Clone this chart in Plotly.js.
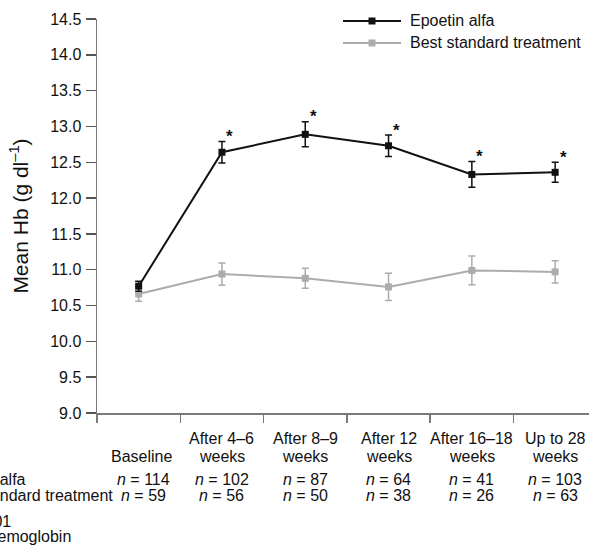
<!DOCTYPE html>
<html>
<head>
<meta charset="utf-8">
<script src="https://cdn.plot.ly/plotly-3.0.1.min.js"></script>
<style>
  html, body { margin: 0; padding: 0; background: #fff; }
  #chart { width: 589px; height: 546px; }
</style>
</head>
<body>
<div id="chart"></div>
<script>
// ---- Data ----
const categories = ["Baseline", "After 4–6 weeks", "After 8–9 weeks", "After 12 weeks", "After 16–18 weeks", "Up to 28 weeks"];
const labelLine1 = ["", "After 4–6", "After 8–9", "After 12", "After 16–18", "Up to 28"];
const labelLine2 = ["Baseline", "weeks", "weeks", "weeks", "weeks", "weeks"];
const epoetinMean = [10.77, 12.64, 12.89, 12.73, 12.33, 12.36];
const epoetinErr  = [0.07, 0.15, 0.175, 0.15, 0.18, 0.14];
const bstMean = [10.66, 10.94, 10.88, 10.76, 10.99, 10.97];
const bstErr  = [0.10, 0.155, 0.14, 0.19, 0.20, 0.155];
const epoetinN = [114, 102, 87, 64, 41, 103];
const bstN     = [59, 56, 50, 38, 26, 63];
const significant = [false, true, true, true, true, true];
const seriesNames = ["Epoetin alfa", "Best standard treatment"];
const yTicks = [9.0, 9.5, 10.0, 10.5, 11.0, 11.5, 12.0, 12.5, 13.0, 13.5, 14.0, 14.5];
const footnotes = ["*<i>P</i> < 0.001", "Hb = haemoglobin"];

// ---- Layout helpers (pixel -> paper) ----
const W = 589, H = 546;
const mL = 97, mR = 0, mT = 19, mB = 132.7;
const plotW = W - mL - mR, plotH = H - mT - mB;
const px = x => (x - mL) / plotW;
const py = y => (H - mB - y) / plotH;

const FONT = "Liberation Sans, Arial, Helvetica, sans-serif";
const black = "#111111";
const grey = "#acacac";
const axisCol = "#7a7a7a";
const FS = 16;

const traces = [
  {
    x: categories, y: bstMean, name: seriesNames[1], type: "scatter", mode: "lines+markers",
    line: { color: grey, width: 2 },
    marker: { symbol: "square", size: 7, color: grey },
    error_y: { type: "data", array: bstErr, visible: true, color: grey, thickness: 1.5, width: 3.5 },
    showlegend: false, hoverinfo: "skip"
  },
  {
    x: categories, y: epoetinMean, name: seriesNames[0], type: "scatter", mode: "lines+markers",
    line: { color: black, width: 2 },
    marker: { symbol: "square", size: 7, color: black },
    error_y: { type: "data", array: epoetinErr, visible: true, color: black, thickness: 1.5, width: 3.5 },
    showlegend: false, hoverinfo: "skip"
  }
];

const annotations = [];
const tf = { family: FONT, size: FS, color: "#111" };

// category labels
categories.forEach((c, i) => {
  if (labelLine1[i]) annotations.push({ xref: "x", yref: "paper", x: c, y: py(439), text: labelLine1[i],
    showarrow: false, xanchor: "center", yanchor: "middle", font: tf });
  annotations.push({ xref: "x", yref: "paper", x: c, y: py(456.5), text: labelLine2[i], xshift: i === 0 ? 3 : 0,
    showarrow: false, xanchor: "center", yanchor: "middle", font: tf });
  annotations.push({ xref: "x", yref: "paper", x: c, y: py(479.5), text: "<i>n</i> = " + epoetinN[i], xshift: i === 0 ? 5 : 0,
    showarrow: false, xanchor: "center", yanchor: "middle", font: tf });
  annotations.push({ xref: "x", yref: "paper", x: c, y: py(496), text: "<i>n</i> = " + bstN[i], xshift: i === 0 ? 5 : 0,
    showarrow: false, xanchor: "center", yanchor: "middle", font: tf });
  if (significant[i]) annotations.push({ xref: "x", yref: "y", x: c, y: epoetinMean[i] + epoetinErr[i],
    text: "<b>*</b>", showarrow: false, xanchor: "center", yanchor: "middle", xshift: 8, yshift: 5,
    font: { family: FONT, size: 17, color: "#111" } });
});

// row labels (cut off at the left edge as in the reference)
annotations.push({ xref: "paper", yref: "paper", x: px(-61), y: py(479.5), text: seriesNames[0],
  showarrow: false, xanchor: "left", yanchor: "middle", font: tf });
annotations.push({ xref: "paper", yref: "paper", x: px(-60), y: py(496), text: seriesNames[1],
  showarrow: false, xanchor: "left", yanchor: "middle", font: tf });
// footnotes
annotations.push({ xref: "paper", yref: "paper", x: px(13), y: py(522), text: footnotes[0],
  showarrow: false, xanchor: "right", yanchor: "middle", font: tf });
annotations.push({ xref: "paper", yref: "paper", x: px(73), y: py(537), text: footnotes[1],
  showarrow: false, xanchor: "right", yanchor: "middle", font: tf });

// legend text
annotations.push({ xref: "paper", yref: "paper", x: px(408), y: py(21), text: seriesNames[0],
  showarrow: false, xanchor: "left", yanchor: "middle", font: tf });
annotations.push({ xref: "paper", yref: "paper", x: px(408), y: py(43), text: seriesNames[1],
  showarrow: false, xanchor: "left", yanchor: "middle", font: tf });

// legend samples
const shapes = [];
[[21, black], [43, grey]].forEach(([yy, col]) => {
  shapes.push({ type: "line", xref: "paper", yref: "paper", x0: px(343), x1: px(401), y0: py(yy), y1: py(yy),
    line: { color: col, width: 2 } });
  shapes.push({ type: "rect", xref: "paper", yref: "paper", x0: px(368.5), x1: px(375.5), y0: py(yy - 3.5), y1: py(yy + 3.5),
    line: { width: 0 }, fillcolor: col });
});

const layout = {
  width: W, height: H,
  margin: { l: mL, r: mR, t: mT, b: mB, pad: 0 },
  paper_bgcolor: "#fff", plot_bgcolor: "#fff",
  font: { family: FONT, size: FS, color: "#111" },
  showlegend: false,
  xaxis: {
    type: "category", categoryorder: "array", categoryarray: categories,
    range: [-0.5, -0.5 + plotW / 83.3],
    showgrid: false, zeroline: false, showline: true, linecolor: axisCol, linewidth: 1.5,
    ticks: "outside", tickson: "boundaries", ticklen: 8, tickcolor: axisCol, tickwidth: 1.5,
    showticklabels: false, fixedrange: true
  },
  yaxis: {
    range: [9, 14.5], tickvals: yTicks, ticktext: yTicks.map(v => v.toFixed(1)),
    showgrid: false, zeroline: false, showline: true, linecolor: axisCol, linewidth: 1.5,
    ticks: "outside", ticklen: 10, tickcolor: "#555", tickwidth: 1.5,
    ticklabelstandoff: 1,
    tickfont: { family: FONT, size: FS, color: "#111" },
    title: { text: "Mean Hb (g dl<sup>–1</sup>)", font: { family: FONT, size: 21, color: "#111" }, standoff: 16 },
    automargin: false, fixedrange: true
  },
  annotations: annotations,
  shapes: shapes
};

Plotly.newPlot("chart", traces, layout, { displayModeBar: false, staticPlot: true });
</script>
</body>
</html>
